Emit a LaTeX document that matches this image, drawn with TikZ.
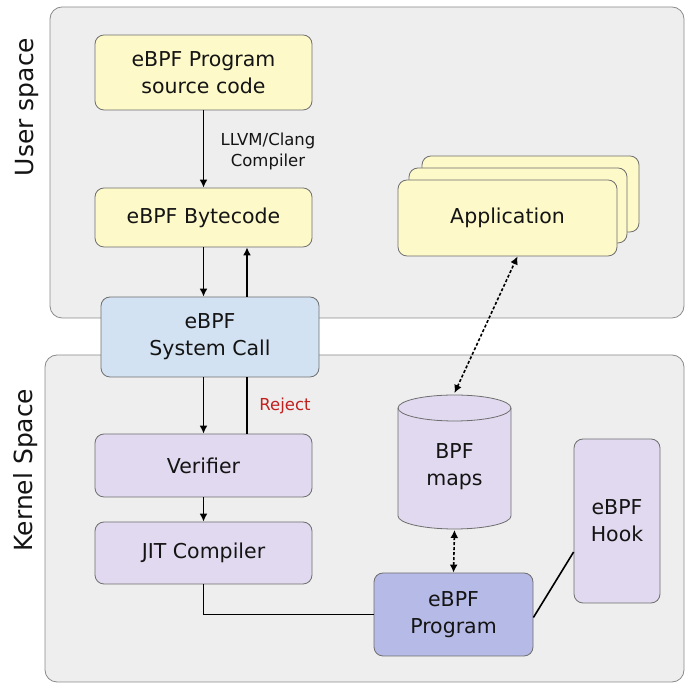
\documentclass[tikz,border=0pt]{standalone}
\usepackage{fontspec}
\setmainfont{DejaVu Sans}
\usetikzlibrary{arrows.meta,calc}
\definecolor{panelfill}{HTML}{EEEEEE}
\definecolor{panelline}{HTML}{8A8A8A}
\definecolor{boxline}{HTML}{6E6E6E}
\definecolor{yel}{HTML}{FDF9C9}
\definecolor{blu}{HTML}{D3E2F2}
\definecolor{lav}{HTML}{E1D9EF}
\definecolor{prg}{HTML}{B6BAE6}
\definecolor{rej}{HTML}{C0201E}
\definecolor{txt}{HTML}{141414}
\tikzset{
  panel/.style={draw=panelline, fill=panelfill, line width=0.8pt, rounded corners=12pt},
  box/.style={draw=boxline, line width=0.8pt, rounded corners=9pt, align=center, text=txt,
    font=\fontsize{20.5}{27}\selectfont, inner sep=0pt},
  arr/.style={draw=black, line width=1.6pt, -{Latex[length=8pt,width=8pt]}},
  plain/.style={draw=black, line width=1.6pt},
  dotarr/.style={draw=black, line width=1.6pt, dash pattern=on 3pt off 2pt, {Latex[length=8pt,width=8pt]}-{Latex[length=8pt,width=8pt]}},
  side/.style={rotate=90, font=\fontsize{25}{28}\selectfont, text=txt},
  small/.style={font=\fontsize{16.5}{21}\selectfont, align=center, text=txt}
}
\begin{document}
\begin{tikzpicture}[x=1pt,y=1pt]
\useasboundingbox (0,0) rectangle (685,684);
% panels
\draw[panel] (50,366) rectangle (684,677);
\draw[panel] (45,2) rectangle (684,329);
\node[side] (ulab) at (27,577) {User space};
\node[side] (klab) at (26,214) {Kernel Space};
% application stack
\node[box, fill=yel, minimum width=217pt, minimum height=76pt] (appb) at (530.5,490) {};
\node[box, fill=yel, minimum width=218pt, minimum height=75pt] (appm) at (518,478.5) {};
\node[box, fill=yel, minimum width=219pt, minimum height=76pt] (app) at (507.5,466) {\raisebox{-2pt}{Application}};
% user space nodes
\node[box, fill=yel, minimum width=217pt, minimum height=75pt] (src) at (203.5,611.5) {eBPF Program\\source code};
\node[box, fill=yel, minimum width=217pt, minimum height=59pt] (byte) at (203.5,466.5) {\raisebox{-2pt}{eBPF Bytecode}};
\node[box, fill=blu, minimum width=218pt, minimum height=80pt] (sys) at (210,347) {eBPF\\System Call};
% kernel nodes
\node[box, fill=lav, minimum width=217pt, minimum height=63pt] (ver) at (203.5,218.5) {Verifier};
\node[box, fill=lav, minimum width=217pt, minimum height=62pt] (jit) at (203.5,131) {JIT Compiler};
\node[box, fill=prg, minimum width=159pt, minimum height=83pt] (prog) at (453.5,69.5) {eBPF\\Program};
\node[box, fill=lav, minimum width=86pt, minimum height=164pt] (hook) at (617,163) {eBPF\\Hook};
% BPF maps cylinder
\filldraw[draw=boxline, fill=lav, line width=0.8pt]
  (398,276) -- (398,168) arc[start angle=180, end angle=360, x radius=56.5pt, y radius=13pt]
  -- (511,276) arc[start angle=0, end angle=180, x radius=56.5pt, y radius=13pt] -- cycle;
\draw[draw=boxline, line width=0.8pt] (398,276) arc[start angle=180, end angle=360, x radius=56.5pt, y radius=13pt];
\node[box, draw=none, minimum width=100pt] (maps) at (454.5,217) {BPF\\maps};
\coordinate (mapstop) at (454.5,291);
\coordinate (mapsbot) at (454.5,154);
% connectors
\draw[arr] (src.south) -- (byte.north);
\node[small] (llvm) at (268,533) {LLVM/Clang\\Compiler};
\draw[arr] (byte.south) -- (byte.south |- sys.north);
\draw[arr] ([xshift=43.5pt]byte.south |- sys.north) -- ([xshift=43.5pt]byte.south);
\draw[arr] (byte.south |- sys.south) -- (ver.north);
\draw[plain] ([xshift=43.5pt]ver.north) -- ([xshift=43.5pt]ver.north |- sys.south);
\node[small, text=rej] (rejl) at (285,278) {Reject};
\draw[arr] (ver.south) -- (jit.north);
\draw[plain] (jit.south) |- (prog.west);
\draw[dotarr] (mapsbot) -- (prog.north);
\draw[dotarr] (mapstop) -- ([xshift=10pt]app.south);
\draw[plain] ([yshift=-3pt]prog.east) -- ([yshift=-31pt]hook.west);
\end{tikzpicture}
\end{document}
